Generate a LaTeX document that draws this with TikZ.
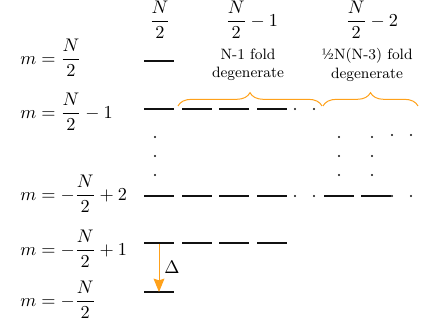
\documentclass[tikz,border=0pt]{standalone}
\usepackage{amsmath}
\usetikzlibrary{arrows.meta,decorations.pathreplacing}
\definecolor{ink}{HTML}{111111}
\definecolor{gapcol}{HTML}{FFA11A}

\begin{document}
\begin{tikzpicture}[
  x=0.6pt, y=-0.6pt, >=Stealth, line cap=butt,
  font=\fontsize{11}{13}\selectfont,
  lvl/.style={ink, line width=1.2pt},
  mlab/.style={anchor=west, inner sep=0pt},
  deg/.style={font=\small, align=center, inner sep=0pt},
  brc/.style={gapcol, line width=0.6pt, decorate, decoration={brace, amplitude=8pt}}]

\useasboundingbox (0,0) rectangle (438,320);
\def\w{30}

% ---- column heads -----------------------------------------------------
\node (h0) at (160,20) {$\dfrac{N}{2}$};
\node (h1) at (252,20) {$\dfrac{N}{2}-1$};
\node (h2) at (372,20) {$\dfrac{N}{2}-2$};
\node[deg] (d1) at (248,65) {N-1 fold\\degenerate};
\node[deg] (d2) at (367,65) {½N(N-3) fold\\degenerate};

% ---- m labels -----------------------------------------------------------
\node[mlab] (m0) at (20,58)  {$m=\dfrac{N}{2}$};
\node[mlab] (m1) at (20,112) {$m=\dfrac{N}{2}-1$};
\node[mlab] (m2) at (20,194) {$m=-\dfrac{N}{2}+2$};
\node[mlab] (m3) at (20,249) {$m=-\dfrac{N}{2}+1$};
\node[mlab] (m4) at (20,300) {$m=-\dfrac{N}{2}$};

% ---- levels -------------------------------------------------------------
\foreach \y/\xs in {61/{144}, 109/{144,182,219,257},
                    196/{144,182,219,257,324,361},
                    243/{144,182,219,257}, 292/{144}}
  \foreach \x in \xs
    \draw[lvl] (\x,\y) -- ++(\w,0);

% ---- dots ---------------------------------------------------------------
\foreach \x/\y in {155/137, 155/156, 155/175,
                   295/109, 314/109, 295/196, 314/196, 392/196, 411/196,
                   339/137, 339/156, 339/175, 372/137, 372/156, 372/175,
                   392/135, 411/135}
  \fill[ink] (\x,\y) circle[radius=1.1];

% ---- degeneracy braces --------------------------------------------------
\draw[brc] (178,106) -- (322,106);
\draw[brc] (323,106) -- (418,106);

% ---- the gap ------------------------------------------------------------
\coordinate (top) at (159,244);
\coordinate (bot) at (159,292);
\draw[gapcol, line width=0.6pt, -{Stealth[length=8pt,width=6.5pt,inset=1pt]}] (top) -- (bot);
\node (gap) at (172,267) {$\Delta$};

\end{tikzpicture}
\end{document}
